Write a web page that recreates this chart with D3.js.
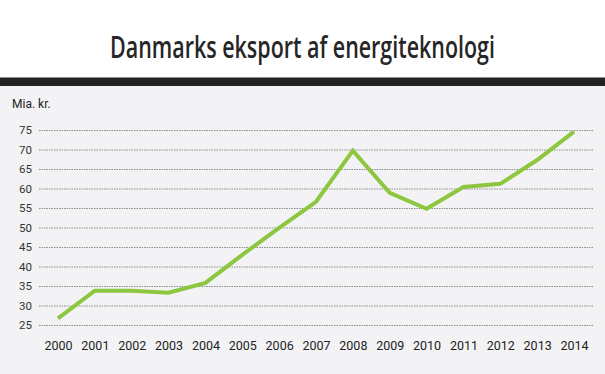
<!DOCTYPE html>
<html>
<head>
<meta charset="utf-8">
<script src="https://cdn.jsdelivr.net/npm/d3@7"></script>
<style>
  html, body { margin: 0; padding: 0; background: #fff; }
  svg { display: block; }
</style>
</head>
<body>
<div id="chart"></div>
<script>
const years = [2000, 2001, 2002, 2003, 2004, 2005, 2006, 2007, 2008, 2009, 2010, 2011, 2012, 2013, 2014];
const values = [26.7, 33.8, 33.8, 33.3, 35.8, 43.0, 49.9, 56.6, 69.7, 58.9, 54.8, 60.4, 61.2, 67.3, 74.6];
const yTicks = [25, 30, 35, 40, 45, 50, 55, 60, 65, 70, 75];

const width = 605, height = 374;

const svg = d3
  .select("#chart")
  .append("svg")
  .attr("width", width)
  .attr("height", height);

// background panels
svg.append("rect").attr("width", width).attr("height", height).attr("fill", "#fff");
svg.append("rect").attr("y", 86).attr("width", width).attr("height", height - 86).attr("fill", "#f3f3f5");
svg.append("rect").attr("y", 77.5).attr("width", width).attr("height", 8.5).attr("fill", "#222");

// title, squeezed horizontally to look like a condensed face
const title = svg
  .append("text")
  .attr("x", 0)
  .attr("y", 0)
  .attr("text-anchor", "middle")
  .attr("font-family", "Open Sans, sans-serif")
  .attr("font-weight", 600)
  .attr("font-size", 31)
  .attr("fill", "#262626")
  .text("Danmarks eksport af energiteknologi");
const natural = title.node().getComputedTextLength();
title.attr("transform", `translate(${width / 2},58) scale(${385 / natural},1)`);

const x = d3.scalePoint().domain(years).range([58, 574]);
const y = d3.scaleLinear().domain([25, 75]).range([325, 130]);

// grid
svg
  .append("g")
  .selectAll("line")
  .data(yTicks)
  .join("line")
  .attr("x1", 39)
  .attr("x2", 593)
  .attr("y1", (d) => y(d) + 0.5)
  .attr("y2", (d) => y(d) + 0.5)
  .attr("stroke", "#8c8c8c")
  .attr("stroke-width", 1)
  .attr("stroke-dasharray", "1.5,1");

const yAxis = svg
  .append("g")
  .attr("transform", "translate(32,0)")
  .call(d3.axisLeft(y).tickValues(yTicks).tickSize(0).tickPadding(0));
yAxis.select(".domain").remove();
yAxis
  .selectAll("text")
  .attr("font-family", "Roboto, sans-serif")
  .attr("font-size", 11.5)
  .attr("fill", "#333");

const xAxis = svg
  .append("g")
  .attr("transform", "translate(0,341)")
  .call(d3.axisBottom(x).tickSize(0).tickPadding(0));
xAxis.select(".domain").remove();
xAxis
  .selectAll("text")
  .attr("font-family", "Roboto, sans-serif")
  .attr("font-size", 12.5)
  .attr("fill", "#222");

svg
  .append("text")
  .attr("x", 12)
  .attr("y", 108)
  .attr("font-family", "Roboto, sans-serif")
  .attr("font-size", 12)
  .attr("fill", "#222")
  .text("Mia. kr.");

const line = d3
  .line()
  .x((d, i) => x(years[i]))
  .y((d) => y(d));

svg
  .append("path")
  .datum(values)
  .attr("d", line)
  .attr("fill", "none")
  .attr("stroke", "#8dc63f")
  .attr("stroke-width", 4)
  .attr("stroke-linejoin", "miter");
</script>
</body>
</html>
